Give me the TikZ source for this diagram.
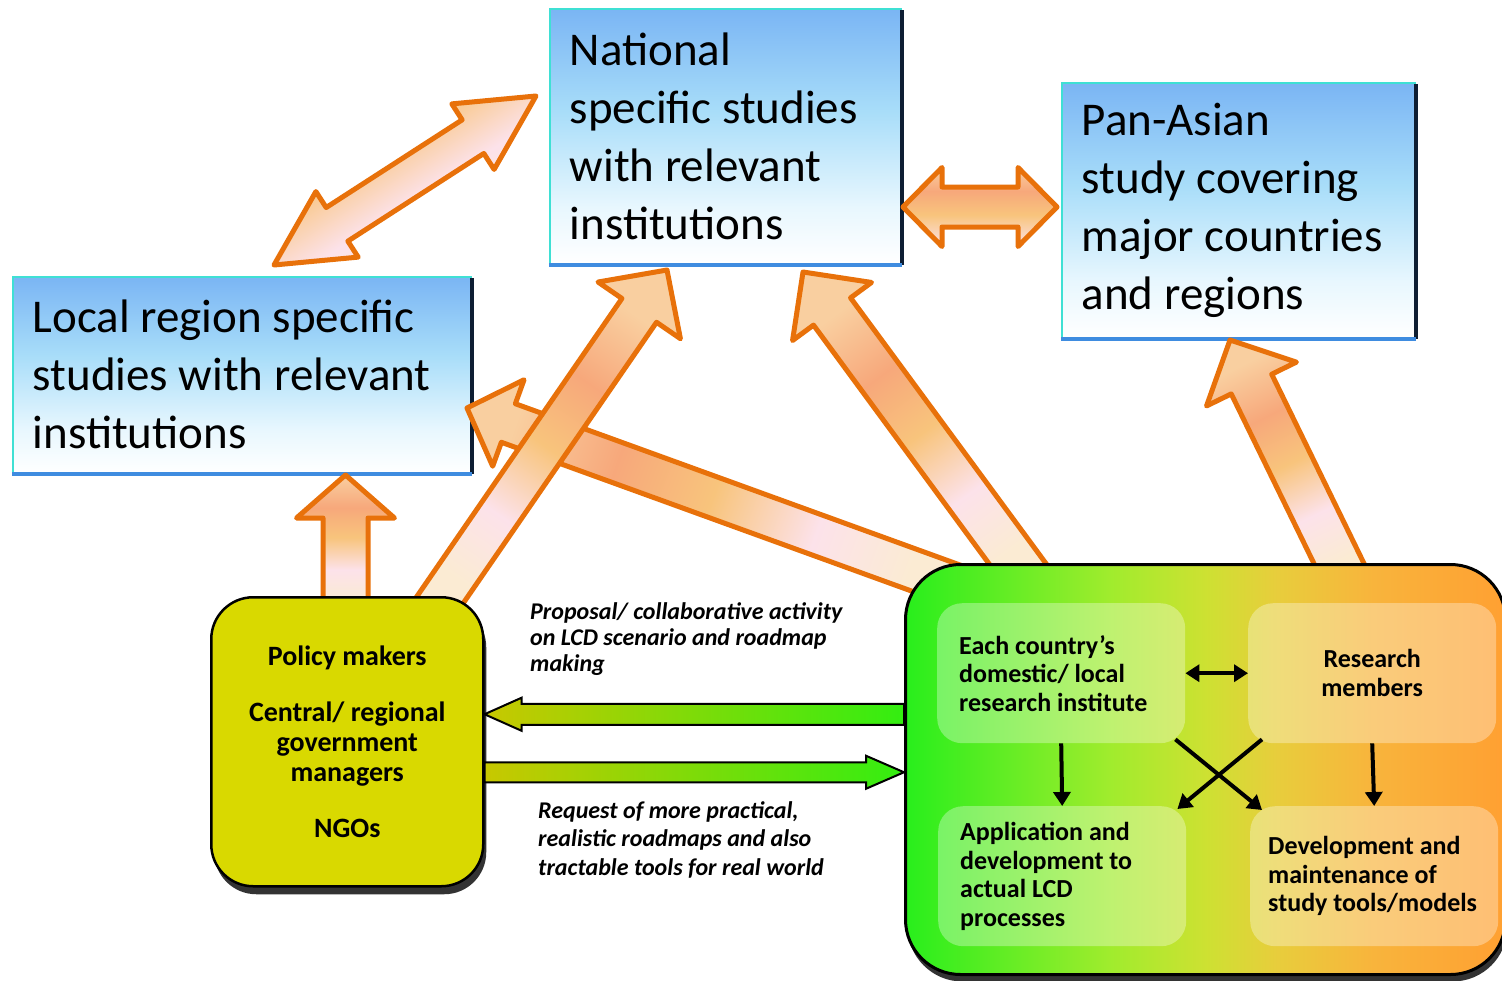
\documentclass[tikz,border=0pt]{standalone}
\usepackage{fontspec}
\setmainfont{Carlito}
\usetikzlibrary{calc,arrows.meta,shadows}
\definecolor{LCDOrange}{HTML}{E8710A}
\definecolor{LCDPeach}{HTML}{F9CFA0}
\definecolor{LCDSalmon}{HTML}{F7A87B}
\definecolor{LCDApricot}{HTML}{F8C47C}
\definecolor{LCDPink}{HTML}{FCE2EA}
\definecolor{LCDCream}{HTML}{FBEBD3}
\definecolor{LCDTan}{HTML}{F5B374}
\definecolor{LCDSkyTop}{HTML}{7AB5F4}
\definecolor{LCDSkyMid}{HTML}{A8DDF9}
\definecolor{LCDSkyLow}{HTML}{E8F7FE}
\definecolor{LCDTeal}{HTML}{3FE0D4}
\definecolor{LCDBlueEdge}{HTML}{3F8CE0}
\definecolor{LCDNavy}{HTML}{0E1E33}
\definecolor{LCDOlive}{HTML}{D9D900}
\definecolor{LCDOliveArrow}{HTML}{C8C800}
\definecolor{LCDYellowGreen}{HTML}{A6DC00}
\definecolor{LCDLime}{HTML}{33EE11}
\definecolor{LCDGa}{HTML}{28EE1C}
\definecolor{LCDGb}{HTML}{A0EC2D}
\definecolor{LCDGc}{HTML}{CDE132}
\definecolor{LCDGd}{HTML}{E8CD3C}
\definecolor{LCDGe}{HTML}{F8B43C}
\definecolor{LCDGf}{HTML}{FFA032}

\pgfdeclareverticalshading{peachalong}{100bp}{color(0bp)=(LCDCream); color(25bp)=(LCDCream);
  color(37bp)=(LCDPink); color(50bp)=(LCDApricot); color(62bp)=(LCDSalmon);
  color(75bp)=(LCDPeach); color(100bp)=(LCDPeach)}
\pgfdeclareverticalshading{peachacross}{100bp}{color(0bp)=(LCDCream); color(25bp)=(LCDCream);
  color(45bp)=(LCDPink); color(62bp)=(LCDApricot); color(75bp)=(LCDSalmon); color(100bp)=(LCDSalmon)}
\pgfdeclareverticalshading{peachband}{100bp}{color(0bp)=(LCDPink); color(25bp)=(LCDPink);
  color(45bp)=(LCDApricot); color(60bp)=(LCDSalmon); color(75bp)=(LCDPeach); color(100bp)=(LCDPeach)}
\pgfdeclareverticalshading{skyfade}{100bp}{color(0bp)=(white); color(25bp)=(white);
  color(36bp)=(LCDSkyLow); color(55bp)=(LCDSkyMid); color(75bp)=(LCDSkyTop); color(100bp)=(LCDSkyTop)}
\pgfdeclarehorizontalshading{greenorange}{100bp}{color(0bp)=(LCDGa); color(25bp)=(LCDGa);
  color(42bp)=(LCDGb); color(50bp)=(LCDGc); color(56bp)=(LCDGd); color(64bp)=(LCDGe);
  color(75bp)=(LCDGf); color(100bp)=(LCDGf)}

% #1 style, #2 base, #3 tip, #4 half shaft, #5 half head, #6 head length
\newcommand{\blockarrow}[6]{%
  \coordinate (ba-head) at ($(#3)!#6pt!(#2)$);
  \path[#1] ($(#2)!#4pt!90:(#3)$) -- ($(ba-head)!#4pt!90:(#3)$)
    -- ($(ba-head)!#5pt!90:(#3)$) -- (#3) -- ($(ba-head)!#5pt!-90:(#3)$)
    -- ($(ba-head)!#4pt!-90:(#3)$) -- ($(#2)!#4pt!-90:(#3)$) -- cycle;}
\newcommand{\dblockarrow}[6]{%
  \coordinate (ba-one) at ($(#2)!#6pt!(#3)$);
  \coordinate (ba-two) at ($(#3)!#6pt!(#2)$);
  \path[#1] (#2) -- ($(ba-one)!#5pt!90:(#3)$) -- ($(ba-one)!#4pt!90:(#3)$)
    -- ($(ba-two)!#4pt!90:(#3)$) -- ($(ba-two)!#5pt!90:(#3)$) -- (#3)
    -- ($(ba-two)!#5pt!-90:(#3)$) -- ($(ba-two)!#4pt!-90:(#3)$)
    -- ($(ba-one)!#4pt!-90:(#3)$) -- ($(ba-one)!#5pt!-90:(#3)$) -- cycle;}

\begin{document}
\begin{tikzpicture}[x=1pt,y=-1pt,
  bluebox/.style={shade,shading=skyfade,draw=LCDTeal,line width=1.5pt,anchor=north west,
    inner xsep=20pt,inner ysep=0pt,align=flush left,font=\fontsize{47}{58}\selectfont},
  orangearrow/.style={shade,shading=peachalong,shading angle=#1,draw=LCDOrange,line width=5pt,line join=round},
  greenarrow/.style={left color=LCDOliveArrow,middle color=LCDYellowGreen,right color=LCDLime,
    draw=black,line width=2pt,line join=miter},
  polbox/.style={fill=LCDOlive,draw=black,line width=2.5pt,rounded corners=42pt,anchor=north west,
    minimum width=272pt,minimum height=289pt,align=center,font=\bfseries\fontsize{28}{30}\selectfont,
    drop shadow={shadow xshift=3pt,shadow yshift=-8pt,fill=black,opacity=.8}},
  bigbox/.style={shade,shading=greenorange,draw=black,line width=3pt,rounded corners=55pt,anchor=north west,
    minimum width=600pt,minimum height=410pt,
    drop shadow={shadow xshift=2pt,shadow yshift=-7pt,fill=black,opacity=.8}},
  innerbox/.style={fill=white,fill opacity=.32,text opacity=1,rounded corners=25pt,anchor=north west,
    minimum width=248pt,minimum height=140pt,inner xsep=22pt,text width=204pt,align=flush left,
    font=\bfseries\fontsize{26}{28.5}\selectfont},
  innerarrow/.style={line width=4pt,-{Triangle[length=14pt,width=17pt]}},
  innerboth/.style={line width=4pt,{Triangle[length=14pt,width=17pt]}-{Triangle[length=14pt,width=17pt]}},
  note/.style={anchor=north west,inner sep=0pt,align=flush left,font=\bfseries\itshape\fontsize{24}{26}\selectfont}]
\useasboundingbox (0,0) rectangle (1502,980);
\fill[white] (0,0) rectangle (1502,980);

\node[bluebox,text width=311pt,minimum height=255pt] (nat) at (549,8) {National\\ specific studies\\ with relevant\\ institutions};
\node[bluebox,text width=313pt,minimum height=255pt] (pan) at (1061,82) {Pan-Asian\\ study covering\\ major countries\\ and regions};
\node[bluebox,text width=418pt,minimum height=196pt] (loc) at (12,276) {Local region specific\\ studies with relevant\\ institutions};
\foreach \b in {nat,pan,loc} {
  \draw[LCDNavy,line width=4pt] ([yshift=-2pt]\b.north east) -- (\b.south east);
  \draw[LCDBlueEdge,line width=4pt] (\b.south west) -- (\b.south east);
}

\coordinate (loc-nat-a) at (274,265);
\coordinate (loc-nat-b) at (536,96);
\coordinate (nat-pan-a) at (903,207);
\coordinate (nat-pan-b) at (1057,207);
\coordinate (big-loc) at (955,585);
\coordinate (loc-tip) at (467,408);
\coordinate (pol-nat) at (431,613);
\coordinate (nat-tip-a) at (667,270);
\coordinate (pol-loc) at (345.5,600);
\coordinate (loc-tip-b) at (345.5,475);
\coordinate (big-nat) at (1031,582);
\coordinate (nat-tip-b) at (803,272);
\coordinate (big-pan) at (1347,580);
\coordinate (pan-tip) at (1230,340);

\dblockarrow{orangearrow=32.8,shading=peachacross}{loc-nat-a}{loc-nat-b}{20}{39}{75}
\dblockarrow{orangearrow=0,shading=peachband}{nat-pan-a}{nat-pan-b}{20}{39.5}{39}
\blockarrow{orangearrow=70.1}{big-loc}{loc-tip}{20.5}{46}{44}
\blockarrow{orangearrow=-34.5}{pol-nat}{nat-tip-a}{21}{50}{49}
\blockarrow{orangearrow=0}{pol-loc}{loc-tip-b}{22.5}{49}{43}
\blockarrow{orangearrow=36.3}{big-nat}{nat-tip-b}{23}{49}{49}
\blockarrow{orangearrow=26}{big-pan}{pan-tip}{22.5}{50}{49}

\node[polbox] (pol) at (210,596) {Policy makers\\[26pt] Central/ regional\\ government\\ managers\\[26pt] NGOs};
\node[bigbox] (big) at (904,563) {};

\coordinate (prop-tip) at ([yshift=27.5pt]pol.east);
\coordinate (prop-base) at (big.west |- prop-tip);
\coordinate (req-base) at ([yshift=-30.5pt]pol.east);
\coordinate (req-tip) at (big.west |- req-base);
\blockarrow{greenarrow}{prop-base}{prop-tip}{10.5}{16.5}{37}
\blockarrow{greenarrow}{req-base}{req-tip}{10}{16.5}{38}

\node[innerbox] (tl) at (937,603) {Each country’s\\ domestic/ local\\ research institute};
\node[innerbox,align=center] (tr) at (1248,603) {Research\\ members};
\node[innerbox] (bl) at (938,806) {Application and\\ development to\\ actual LCD\\ processes};
\node[innerbox,inner xsep=18pt,text width=212pt] (br) at (1250,806) {Development and\\ maintenance of\\ study tools/models};

\draw[innerarrow] (tl.south) -- (bl.north);
\draw[innerarrow] (tr.south) -- (br.north);
\draw[innerarrow] ($(tl.south east)+(-10,-4)$) -- ($(br.north west)+(12,4)$);
\draw[innerarrow] ($(tr.south west)+(14,-4)$) -- ($(bl.north east)+(-9,3)$);
\draw[innerboth] (tl.east) -- (tr.west);

\node[note] (proposal) at (530,602) {Proposal/ collaborative activity\\ on LCD scenario and roadmap\\ making};
\node[note,font=\bfseries\itshape\fontsize{24}{28.5}\selectfont] (request) at (538,801) {Request of more practical,\\ realistic roadmaps and also\\ tractable tools for real world};
\end{tikzpicture}
\end{document}
